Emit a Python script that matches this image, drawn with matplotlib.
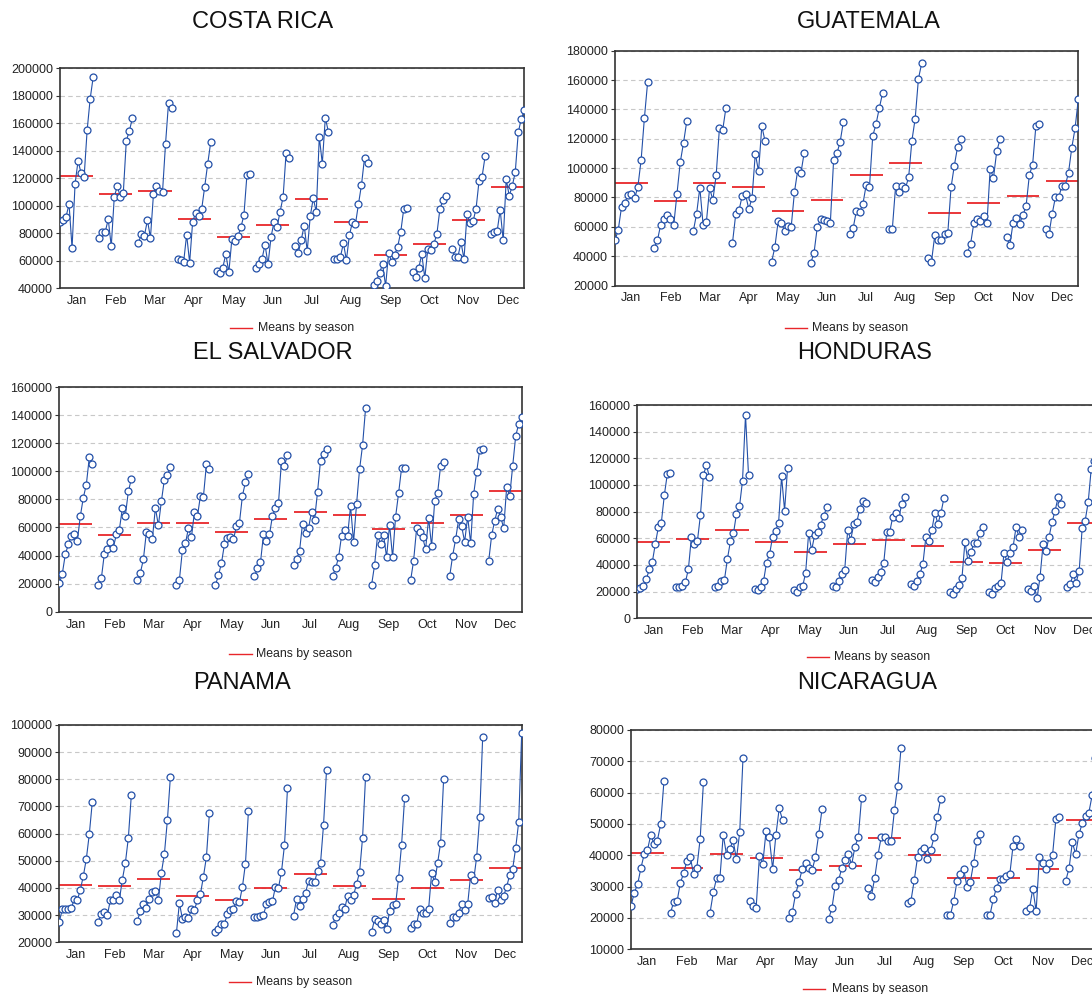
import matplotlib
matplotlib.use('Agg')
import matplotlib.pyplot as plt
from matplotlib.lines import Line2D
import numpy as np

plt.rcParams['font.family'] = ['Liberation Sans', 'DejaVu Sans']

months = ['Jan', 'Feb', 'Mar', 'Apr', 'May', 'Jun', 'Jul', 'Aug', 'Sep', 'Oct', 'Nov', 'Dec']
legend_label = 'Means by season'

# values in thousands, one list per month (years in order)
costa_rica = [
    [88, 90, 92, 101.3, 69.3, 116.1, 132.8, 123.6, 121, 154.9, 177.7, 193.5],
    [76.8, 80.7, 81, 90.2, 70.5, 106.4, 114.4, 106.4, 109.6, 147.4, 154.4, 163.6],
    [73.2, 79.3, 78.3, 89.5, 76.8, 108.4, 114.7, 111, 110, 145, 175, 171],
    [61.1, 60.6, 58.9, 79, 58.7, 88.5, 94.8, 92.8, 97.7, 114, 130.7, 146.4],
    [52.8, 51.4, 55, 65, 51.6, 75.6, 74.4, 77.8, 84.4, 93.1, 122.4, 123.2],
    [54.8, 57.5, 61.3, 71.8, 57.5, 77.3, 88.5, 84.6, 95.8, 106.4, 138.7, 134.5],
    [70.8, 65.5, 75.2, 85.6, 67.2, 92.4, 105.5, 95.5, 150.3, 130.7, 164.1, 154],
    [61.6, 61.1, 62.8, 72.7, 60.6, 78.8, 88.2, 86.8, 101.3, 115.2, 134.8, 131.4],
    [42.4, 45.3, 51.4, 57.5, 41.7, 65.9, 58.9, 64.2, 70.3, 80.7, 97.5, 98.7],
    [51.6, 48.5, 55, 64.7, 47.5, 68.6, 67.6, 72.2, 79.5, 97.5, 104, 106.9],
    [68.6, 63, 63, 73.5, 61.3, 94.3, 87.5, 88.7, 97.9, 118.3, 121.2, 136],
    [79.3, 80.7, 81.7, 97, 74.9, 119.3, 107.2, 114.4, 124.4, 153.5, 163.2, 169.5],
]

guatemala = [
    [50.7, 58, 73.5, 76.2, 82, 82.3, 79.4, 87.1, 105.4, 133.8, 158.6],
    [45.7, 50.7, 61.4, 65, 68, 65.5, 61.2, 82.6, 104, 117.2, 132],
    [57.1, 68.7, 86.7, 61.4, 63.2, 86.2, 78.3, 95.1, 127, 125.8, 141.1],
    [48.9, 68.5, 71.2, 81.2, 82.1, 72.1, 79.6, 109.9, 97.8, 128.6, 118.3],
    [36, 46.2, 63.7, 62.6, 57.1, 60.7, 59.8, 83.7, 98.5, 96.9, 110.6],
    [35.3, 42.3, 59.8, 65, 64.4, 63.7, 62.6, 105.4, 110, 117.8, 131.7],
    [55.3, 59.2, 71, 70.1, 75.8, 88.7, 87.4, 122, 129.9, 140.9, 150.9],
    [58.5, 58.5, 87.6, 83.5, 87.8, 86.2, 93.7, 118.8, 133.6, 160.9, 171.4],
    [38.4, 36.2, 54.1, 51.2, 51.2, 55.3, 55.7, 86.9, 101.7, 114.5, 119.5],
    [42.3, 48.5, 62.8, 65.5, 63.9, 67.3, 62.3, 99.7, 93.3, 111.5, 119.5],
    [53, 47.3, 62.6, 66.3, 62.1, 67.8, 74.2, 95.3, 102.4, 128.8, 129.9],
    [58.2, 54.8, 68.9, 80.3, 80.3, 87.8, 88.1, 96.9, 113.8, 127, 146.8],
]

el_salvador = [
    [20.1, 27, 40.8, 47.9, 54, 55.2, 50.2, 68, 81.2, 90.5, 110, 105.2],
    [19, 23.7, 41.2, 44.6, 49.3, 45.7, 55, 58.5, 73.5, 68.5, 85.6, 94.6],
    [22.3, 27.7, 37.2, 56.6, 55.5, 51.7, 74, 61.4, 78.7, 94.1, 97.2, 103.3],
    [19.2, 22.8, 43.8, 48.6, 59.3, 52.9, 70.9, 67.8, 82.5, 82, 105, 101.7],
    [19, 25.8, 34.6, 47.9, 52.6, 53.1, 51.7, 60.7, 63.5, 82.7, 92.2, 98.1],
    [25.1, 31, 35.1, 55, 50.2, 55, 68.3, 73.7, 77.3, 107.6, 103.8, 111.9],
    [32.9, 37.4, 42.9, 62.8, 55.7, 59.5, 71.1, 65.4, 85.1, 107.6, 112.6, 115.7],
    [25.4, 30.8, 38.6, 54, 58.1, 54, 75.1, 49.8, 76.6, 101.4, 118.5, 144.8],
    [19, 33.2, 54.5, 48.1, 54.5, 38.9, 61.9, 38.6, 67.6, 84.4, 102.4, 102.4],
    [22.3, 36.3, 59.3, 56.4, 52.9, 44.6, 66.6, 46.5, 78.5, 84.6, 104.1, 106.9],
    [25.1, 39.8, 51.7, 65.7, 60.7, 49.8, 67.6, 48.8, 83.7, 99.6, 115, 115.9],
    [36, 54.5, 64.7, 73.2, 67.6, 59.3, 88.9, 82.2, 103.8, 125.1, 133.7, 138.4],
]

honduras = [
    [22, 22.8, 24.5, 29.3, 36.8, 42.3, 55.8, 68.3, 71.8, 92.5, 108.5, 109.3],
    [23.3, 23.3, 24, 27, 37, 60.8, 56, 58, 77.3, 107.5, 115, 105.8],
    [23.8, 24.5, 28, 29, 44.8, 58, 63.8, 78.5, 84, 103, 152.5, 107.5],
    [22, 21, 23.8, 28, 41.8, 48, 61, 65.8, 71.5, 106.5, 80.8, 113],
    [21, 20, 23.8, 24, 34, 64, 51, 62.5, 64.5, 70.3, 76.5, 83.3],
    [24.5, 23.8, 28.3, 33, 36, 66.3, 58.8, 70.5, 72, 82, 88.3, 86.3],
    [28.8, 27, 31.3, 35, 41.8, 65, 65, 76.3, 79.3, 75.5, 85.8, 91],
    [25.5, 24.3, 28, 33, 40.5, 60.8, 58, 66.3, 79.3, 70.8, 78.8, 90],
    [19.8, 18.3, 22, 24.8, 30, 57.3, 43, 49.8, 56.3, 56.3, 63.8, 68.8],
    [20, 18.3, 22.5, 24.3, 26.3, 49.3, 42.5, 49.3, 53.3, 68.3, 61, 66],
    [21.8, 20.8, 24.5, 15, 31.3, 55.8, 50.5, 61.3, 72.3, 80.8, 90.8, 86],
    [23.5, 25.5, 33, 26.8, 35.5, 67.5, 73.3, 87, 111.8, 118, 124, 130],
]

panama = [
    [27.6, 32.1, 32.1, 32.1, 32.5, 36, 35.6, 39.3, 44.4, 50.7, 59.9, 71.8],
    [27.6, 30.6, 31.3, 29.9, 35.6, 35.6, 37.4, 35.5, 43.1, 49.2, 58.5, 74.4],
    [27.9, 31.5, 34, 32.6, 36.1, 38.4, 39, 35.5, 45.6, 52.5, 65, 80.9],
    [23.4, 34.5, 28.6, 29.3, 28.8, 32.1, 31.9, 35.5, 37.7, 44.2, 51.4, 67.7],
    [23.7, 24.9, 26.6, 26.9, 30.4, 32, 32.3, 35.3, 34.8, 40.5, 49, 68.5],
    [29.4, 29.4, 29.7, 30.1, 34.1, 34.7, 35.2, 40.5, 40.1, 46, 55.8, 76.7],
    [29.8, 35.8, 33.4, 35.8, 38.2, 42.6, 42.2, 42.1, 46.4, 49.2, 63.2, 83.4],
    [26.5, 29.3, 30.9, 32.9, 32.1, 37.1, 35.5, 37.3, 41.5, 45.8, 58.5, 81],
    [23.7, 28.5, 27.9, 26.7, 28.2, 24.8, 31.5, 33.7, 34, 43.8, 56, 73.1],
    [25.3, 26.6, 26.6, 32.3, 30.9, 30.7, 32.3, 45.5, 42.2, 49.2, 56.7, 80.1],
    [27.2, 29.2, 29.4, 30.9, 34, 31.9, 34, 44.8, 42.9, 51.4, 66.1, 95.5],
    [36.2, 36.8, 34.6, 39.4, 35.6, 37.1, 40.5, 44.8, 47.1, 54.8, 64.3, 97.2],
]

nicaragua = [
    [23.8, 28.1, 30.7, 35.9, 40.3, 41.7, 46.5, 43.6, 44.7, 49.9, 63.6],
    [21.7, 25.2, 25.4, 31.3, 34.3, 38.3, 39.4, 34, 36.1, 45.3, 63.4],
    [21.7, 28.2, 32.8, 32.8, 46.5, 40.2, 42, 44.8, 38.8, 47.3, 71],
    [25.3, 23.8, 23.3, 39.8, 37.2, 47.7, 45.7, 35.6, 46.5, 55, 51.3],
    [20.1, 22, 27.8, 31.5, 35.6, 37.4, 36.1, 35.3, 39.4, 46.8, 54.7],
    [19.7, 23.1, 30.3, 32, 35.9, 38.6, 40.3, 37, 42.8, 45.7, 58.3],
    [29.5, 27.1, 32.8, 40.2, 46, 45.7, 44.5, 44.7, 54.5, 62.2, 74.4],
    [24.9, 25.5, 32.1, 39.4, 41.4, 42.3, 38.7, 41.7, 45.7, 52.3, 57.9],
    [21, 21, 25.5, 31.9, 34.1, 35.6, 30, 31.4, 37.4, 44.6, 46.7],
    [21, 21, 26.1, 29.7, 32.3, 32.3, 33.4, 33.9, 43.1, 45.2, 43.1],
    [22.1, 23.1, 29.4, 22.2, 39.4, 37.6, 35.6, 37.6, 40.2, 51.5, 52.3],
    [31.9, 35.9, 44.1, 40.4, 46.7, 50.2, 52.6, 53.6, 59.1, 71, 79],
]

titles = ['COSTA RICA', 'GUATEMALA', 'EL SALVADOR', 'HONDURAS', 'PANAMA', 'NICARAGUA']
datasets = [costa_rica, guatemala, el_salvador, honduras, panama, nicaragua]
y_ranges = [(40000, 200000, 20000), (20000, 180000, 20000), (0, 160000, 20000),
            (0, 160000, 20000), (20000, 100000, 10000), (10000, 80000, 10000)]

# layout in pixels
W, H = 1092, 994
axes_px = [(60, 68.3, 524.3, 288.3), (615, 50.7, 1078.3, 285.5),
           (59.3, 387, 521.7, 611.7), (637.3, 405, 1100.2, 618.3),
           (59.3, 725, 521.7, 942.3), (631, 730, 1098.7, 949.3)]
title_px = [(192, 22), (797, 22), (193, 353), (797, 353), (193, 683), (797, 683)]
legend_px = [(230, 252, 328.3, 257.5), (785, 807, 328.3, 811.5),
             (229, 252, 653.5, 256), (806.5, 828.5, 656.7, 834),
             (228.7, 251, 981.7, 256), (802.7, 825, 989.3, 831.7)]

blue = '#2350a8'
red = '#e8262a'
grey_text = '#222222'

fig = plt.figure(figsize=(W / 100, H / 100), dpi=100)

for title, data, (y0, y1, ystep), (ax0, ay0, ax1, ay1), (tx, ty), (lx0, lx1, ly, ltx) in zip(
        titles, datasets, y_ranges, axes_px, title_px, legend_px):
    ax = fig.add_axes([ax0 / W, 1 - ay1 / H, (ax1 - ax0) / W, (ay1 - ay0) / H])
    n = len(data[0])
    period = n + 1
    centers = []
    for m, vals in enumerate(data):
        v = np.array(vals) * 1000
        x = m * period + np.arange(len(v))
        ax.hlines(v.mean(), x[0], x[-1], color=red, lw=1.3, zorder=2)
        ax.plot(x, v, color=blue, lw=0.8, marker='o', ms=5.0, mfc='white',
                mec=blue, mew=0.9, zorder=3)
        centers.append(m * period + (n - 1) / 2)
    ax.set_xlim(0, 12 * period - 2)
    ax.set_ylim(y0, y1)
    ax.set_yticks(np.arange(y0, y1 + 1, ystep))
    ax.set_yticklabels([f'{int(t)}' for t in np.arange(y0, y1 + 1, ystep)])
    ax.set_xticks(centers)
    ax.set_xticklabels(months)
    ax.tick_params(axis='x', length=0, pad=5, labelsize=9, labelcolor=grey_text)
    ax.tick_params(axis='y', length=3, width=0.8, pad=2, labelsize=9,
                   labelcolor=grey_text, color='#333333')
    ax.yaxis.grid(True, ls=(0, (4, 3)), color='#c8c8c8', lw=0.8)
    ax.set_axisbelow(True)
    for sp in ax.spines.values():
        sp.set_color('#333333')
        sp.set_linewidth(1.2)

    fig.text(tx / W, 1 - ty / H, title, ha='left', va='center', fontsize=17, color='#111111')
    fig.add_artist(Line2D([lx0 / W, lx1 / W], [1 - ly / H, 1 - ly / H], color=red, lw=1.0,
                          transform=fig.transFigure))
    fig.text(ltx / W, 1 - ly / H, legend_label, ha='left', va='center', fontsize=8.8,
             color=grey_text)

fig.savefig('out.png', dpi=100)
